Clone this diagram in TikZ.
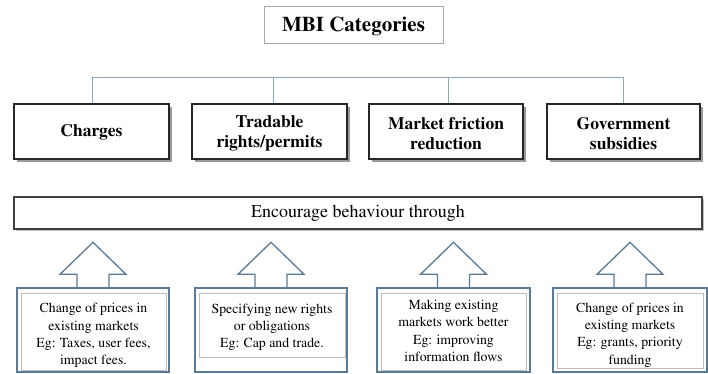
\documentclass[tikz,border=0pt]{standalone}
\usepackage[T1]{fontenc}
\usepackage{times}
\usetikzlibrary{shadows,calc}
\definecolor{blueedge}{HTML}{5A7A99}
\definecolor{treeline}{HTML}{8EA6BE}
\definecolor{innergray}{HTML}{BDBDBD}
\definecolor{titlegray}{HTML}{A8A8A8}
\begin{document}
\begin{tikzpicture}[x=1pt,y=-1pt,
  titlebox/.style={draw=titlegray, line width=1pt, fill=white, minimum width=179pt, minimum height=37pt, inner sep=0pt},
  titletext/.style={inner sep=0pt, font=\fontsize{21}{24}\selectfont\bfseries},
  catbox/.style={draw=black!85, line width=1.3pt, fill=white, minimum height=55pt, inner sep=0pt,
    drop shadow={shadow xshift=2.5pt, shadow yshift=-2.5pt, opacity=0.4, fill=black}},
  cattext/.style={inner sep=0pt, align=center, font=\fontsize{17.5}{20}\selectfont\bfseries},
  encbox/.style={draw=black!75, line width=1.2pt, fill=white, minimum width=688pt, minimum height=32pt, inner sep=0pt,
    font=\fontsize{18}{20}\selectfont,
    drop shadow={shadow xshift=1.5pt, shadow yshift=-1.5pt, opacity=0.25, fill=black}},
  outerbox/.style={draw=blueedge, line width=1.4pt, minimum height=84pt, inner sep=0pt},
  innerbox/.style={draw=innergray, line width=0.8pt, inner sep=0pt},
  boxtext/.style={inner sep=0pt, align=center, font=\fontsize{13.8}{17.3}\selectfont},
  tree/.style={draw=treeline, line width=0.9pt},
  uparrow/.style={draw=blueedge, line width=1.3pt, line join=miter}
]
\useasboundingbox (0,0) rectangle (708,373);

% title
\node[titlebox] (title) at (353.5,24.5) {};
\node[titletext] (titlet) at ($(title.center)+(0,1.5)$) {MBI Categories};

% categories
\node[catbox, minimum width=155pt] (k1) at (91.5,131.5) {};
\node[catbox, minimum width=155pt] (k2) at (269.5,131.5) {};
\node[catbox, minimum width=154pt] (k3) at (446,131.5) {};
\node[catbox, minimum width=153pt] (k4) at (623.5,131.5) {};
\node[cattext] (kt1) at ($(k1.center)+(0,1)$) {Charges};
\node[cattext] (kt2) at ($(k2.center)+(0,2)$) {Tradable\\rights/permits};
\node[cattext] (kt3) at ($(k3.center)+(0,2)$) {Market friction\\reduction};
\node[cattext] (kt4) at ($(k4.center)+(0,2)$) {Government\\subsidies};

% tree lines
\coordinate (bar) at (0,77);
\coordinate (d1) at ($(k1.north)+(0.5,0)$);
\coordinate (d2) at ($(k2.north)+(3.5,0)$);
\coordinate (d3) at ($(k3.north)+(2,0)$);
\coordinate (d4) at ($(k4.north)+(-0.5,0)$);
\draw[tree] (d1) -- (d1 |- bar) -- (d4 |- bar) -- (d4);
\draw[tree] (d2) -- (d2 |- bar);
\draw[tree] (d3) -- (d3 |- bar);

% encourage box
\node[encbox] (enc) at (358,213) {Encourage behaviour through};

% outer boxes
\node[outerbox, minimum width=152pt] (o1) at (93,330) {};
\node[outerbox, minimum width=152pt] (o2) at (271,330) {};
\node[outerbox, minimum width=153pt] (o3) at (453.5,330) {};
\node[outerbox, minimum width=154pt] (o4) at (630,330) {};

% inner boxes
\node[innerbox, minimum width=145pt, minimum height=77pt] (t1) at (93.5,331.5) {};
\node[innerbox, minimum width=146pt, minimum height=64pt] (t2) at (272,325) {};
\node[innerbox, minimum width=145pt, minimum height=77pt] (t3) at (453.5,331.5) {};
\node[innerbox, minimum width=146pt, minimum height=75pt] (t4) at (630,330.5) {};

% texts
\node[boxtext] (x1) at (93.5,335.5)
  {Change of prices in\\existing markets\\Eg: Taxes, user fees,\\impact fees.};
\node[boxtext] (x2) at (272,327.5)
  {Specifying new rights\\or obligations\\Eg: Cap and trade.};
\node[boxtext] (x3) at (453.5,331)
  {Making existing\\markets work better\\Eg: improving\\information flows};
\node[boxtext] (x4) at (630,335)
  {Change of prices in\\existing markets\\Eg: grants, priority\\funding};

% block arrows
\foreach \o in {o1,o2,o3,o4}{
  \draw[uparrow] ($(\o.north)+(-16,0)$) -- ++(0,-13) -- ++(-17,0)
    -- ($(\o.north)+(0,-45)$) -- ($(\o.north)+(33,-13)$) -- ++(-17,0) -- ($(\o.north)+(16,0)$);
}
\end{tikzpicture}
\end{document}
